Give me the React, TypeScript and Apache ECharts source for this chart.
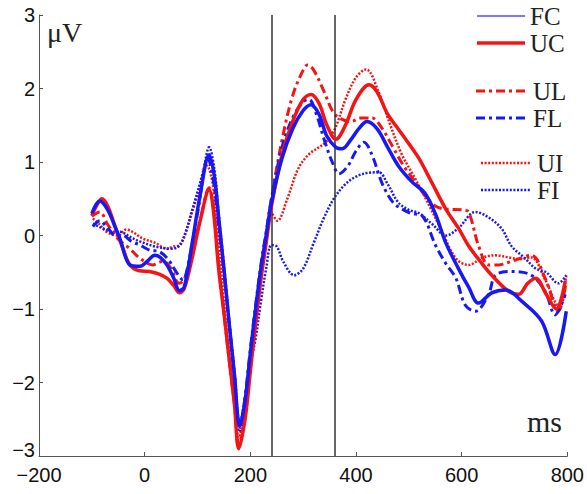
import React, { useEffect, useRef } from "react";
import * as echarts from "echarts";

// ---- data (ms, µV) ----
const ucMs = [-100,-90,-81,-70,-55,-40,-28,-10,9,25,42,55,66,75,90,105,122,130,140,150,160,170,178,190,200,210,220,230,240,260,280,300,315,330,345,362,380,400,425,440,460,480,500,520,545,570,594,613,635,657,689,708,725,740,760,779,796];
const ucUv = [0.27,0.42,0.5,0.4,0.1,-0.2,-0.4,-0.48,-0.49,-0.52,-0.58,-0.68,-0.78,-0.72,-0.3,0.2,0.62,0.35,-0.45,-1.05,-1.68,-2.3,-2.9,-2.5,-1.85,-1.2,-0.6,-0.1,0.4,1.1,1.55,1.85,1.92,1.8,1.5,1.31,1.5,1.85,2.05,1.95,1.65,1.45,1.25,1.04,0.7,0.36,0.1,-0.14,-0.35,-0.54,-0.76,-0.8,-0.65,-0.58,-0.8,-1.0,-0.62];

const fcMs = [-100,-85,-70,-55,-47,-28,-9,5,19,30,42,55,66,75,90,105,122,132,140,150,160,170,180,190,200,210,220,230,240,260,280,300,315,330,345,362,374,390,405,421,440,460,480,506,530,550,570,594,613,632,657,683,713,751,777,798];
const fcUv = [0.3,0.47,0.35,0.1,-0.04,-0.4,-0.42,-0.35,-0.27,-0.3,-0.4,-0.58,-0.75,-0.7,-0.1,0.55,1.1,0.8,0.25,-0.45,-1.2,-1.9,-2.6,-2.25,-1.6,-1.0,-0.45,0.0,0.45,1.05,1.45,1.7,1.78,1.65,1.35,1.2,1.18,1.3,1.45,1.55,1.45,1.2,0.95,0.73,0.58,0.3,-0.1,-0.45,-0.7,-0.92,-0.78,-0.74,-0.89,-1.16,-1.62,-1.03];

const ulMs = [-100,-85,-70,-50,-28,-9,15,35,50,65,75,90,105,122,130,140,150,160,170,178,190,200,210,220,230,240,260,280,300,308,320,340,355,368,390,410,430,450,470,490,510,530,550,570,600,613,632,651,670,695,732,758,783,798];
const ulUv = [0.26,0.32,0.15,-0.05,-0.18,-0.31,-0.4,-0.35,-0.45,-0.65,-0.6,-0.2,0.2,0.65,0.4,-0.4,-1.05,-1.7,-2.3,-2.85,-2.45,-1.8,-1.1,-0.5,0.0,0.5,1.3,1.9,2.25,2.32,2.25,1.95,1.7,1.6,1.55,1.6,1.6,1.45,1.2,0.95,0.75,0.55,0.4,0.36,0.35,0.32,-0.14,-0.4,-0.4,-0.35,-0.27,-0.58,-1.03,-0.62];

const flMs = [-98,-85,-70,-55,-42,-25,-9,10,28,45,60,72,85,100,120,130,140,150,160,170,180,190,200,210,220,230,240,260,280,300,311,325,340,355,368,385,400,415,430,450,470,487,505,525,551,570,589,607,626,651,664,695,732,758,777,796];
const flUv = [0.12,0.2,0.1,0.0,0.0,-0.08,-0.13,-0.2,-0.22,-0.33,-0.5,-0.6,-0.3,0.3,1.05,0.75,0.15,-0.5,-1.2,-1.9,-2.65,-2.2,-1.55,-0.95,-0.4,0.05,0.5,1.2,1.6,1.82,1.85,1.65,1.3,1.0,0.84,0.95,1.15,1.27,1.1,0.7,0.45,0.36,0.3,0.27,-0.14,-0.38,-0.58,-0.95,-1.03,-0.8,-0.54,-0.49,-0.54,-0.76,-1.08,-0.8];

const uiMs = [-98,-85,-72,-50,-35,-23,-4,20,42,55,66,80,100,118,130,140,150,160,170,178,190,200,210,220,230,240,251,270,290,310,330,343,360,380,400,419,443,465,487,510,532,560,589,613,640,664,690,710,732,758,783,798];
const uiUv = [0.23,0.15,0.05,0.0,0.08,0.05,-0.04,-0.1,-0.18,-0.15,-0.13,0.1,0.55,0.95,0.65,-0.1,-0.9,-1.6,-2.2,-2.75,-2.35,-1.7,-1.05,-0.45,0.0,0.3,0.2,0.5,0.9,1.1,1.2,1.27,1.45,1.85,2.15,2.26,1.95,1.5,1.1,0.8,0.5,0.1,-0.31,-0.4,-0.3,-0.27,-0.3,-0.32,-0.3,-0.6,-0.95,-0.55];

const fiMs = [-98,-80,-60,-47,-25,-9,20,53,70,90,110,122,132,140,150,160,170,180,190,200,210,220,230,240,250,262,283,300,320,340,358,380,400,420,443,460,480,500,520,545,570,594,626,650,675,695,720,740,760,783,798];
const fiUv = [0.16,0.1,0.05,0.05,-0.03,-0.08,-0.15,-0.18,-0.1,0.35,0.85,1.2,0.9,0.3,-0.4,-1.15,-1.85,-2.55,-2.2,-1.75,-1.4,-0.9,-0.45,-0.13,-0.15,-0.35,-0.54,-0.45,-0.1,0.25,0.5,0.7,0.8,0.85,0.86,0.7,0.45,0.35,0.3,0.15,0.0,0.1,0.32,0.25,0.1,-0.15,-0.31,-0.45,-0.5,-0.65,-0.54];

const markerMs = [240, 360];
const xTicks = { min: -200, max: 800, interval: 200 };
const yTicks = { min: -3, max: 3, interval: 1 };
const legendNames = ["FC", "UC", "UL", "FL", "UI", "FI"];

const RED = "#f41414";
const BLUE = "#1818f4";
const SERIF = "'Liberation Serif', 'Times New Roman', serif";
const SANS = "'Liberation Sans', Arial, sans-serif";
const DASH_DOT = [9, 4, 3, 4];
const DOTTED = [2, 1.6];

const zip = (xs: number[], ys: number[]) => xs.map((x, i) => [x, ys[i]]);
const minus = (v: number) => String(v).replace("-", "\u2212");

// legend sample styles (layout only)
const legendStyle: Record<string, { x1: number; x2: number; tx: number; y: number; color: string; w: number; dash: any }> = {
  FC: { x1: 477, x2: 525, tx: 530, y: 16, color: "#4a4aff", w: 1.5, dash: null },
  UC: { x1: 477, x2: 525, tx: 530, y: 43, color: RED, w: 3.5, dash: null },
  UL: { x1: 476, x2: 527, tx: 533, y: 91, color: RED, w: 3, dash: DASH_DOT },
  FL: { x1: 476, x2: 527, tx: 533, y: 118, color: BLUE, w: 3, dash: DASH_DOT },
  UI: { x1: 481, x2: 531, tx: 537, y: 163, color: RED, w: 2.5, dash: DOTTED },
  FI: { x1: 481, x2: 531, tx: 537, y: 190, color: BLUE, w: 2.5, dash: DOTTED },
};

export default function App() {
  const ref = useRef<HTMLDivElement>(null);
  useEffect(() => {
    if (!ref.current) return;
    const chart = echarts.init(ref.current, null, { renderer: "svg" });
    const line = (name: string, xs: number[], ys: number[], color: string, type: any, width: number, z: number, extra: any = {}) => ({
      name,
      type: "line",
      data: zip(xs, ys),
      smooth: 0.35,
      symbol: "none",
      showSymbol: false,
      z,
      lineStyle: { color, type, width },
      itemStyle: { color },
      ...extra,
    });
    const legendGraphics: any[] = [];
    legendNames.forEach((n) => {
      const s = legendStyle[n];
      legendGraphics.push({
        type: "line",
        shape: { x1: s.x1, y1: s.y, x2: s.x2, y2: s.y },
        style: { stroke: s.color, lineWidth: s.w, lineDash: s.dash || undefined },
      });
      legendGraphics.push({
        type: "text",
        x: s.tx,
        y: s.y,
        style: { text: n, font: `25px ${SERIF}`, lineHeight: 22, fill: "#222", verticalAlign: "middle", align: "left" },
      });
    });
    chart.setOption({
      animation: false,
      backgroundColor: "#fff",
      grid: { left: 39, right: 18, top: 15, bottom: 38, containLabel: false },
      xAxis: {
        type: "value",
        ...xTicks,
        axisLine: { show: true, onZero: false, lineStyle: { color: "#555", width: 1 } },
        axisTick: { show: true, inside: true, length: 4, lineStyle: { color: "#555" } },
        splitLine: { show: false },
        axisLabel: { fontFamily: SANS, fontSize: 20, color: "#111", margin: 9, formatter: minus },
      },
      yAxis: {
        type: "value",
        ...yTicks,
        axisLine: { show: true, onZero: false, lineStyle: { color: "#555", width: 1 } },
        axisTick: { show: true, inside: true, length: 4, lineStyle: { color: "#555" } },
        splitLine: { show: false },
        axisLabel: {
          fontFamily: SANS,
          fontSize: 20,
          color: "#111",
          margin: 4,
          formatter: (v: number) => (v === yTicks.min ? `{low|${minus(v)}}` : minus(v)),
          rich: { low: { fontFamily: SANS, fontSize: 20, color: "#111", padding: [0, 0, 12, 0] } },
        },
      },
      graphic: [
        { type: "text", left: 47, top: 18, style: { text: "\u03bcV", font: `28px ${SERIF}`, fill: "#222" } },
        { type: "text", left: 527, top: 406, style: { text: "ms", font: `30px ${SERIF}`, fill: "#222" } },
        ...legendGraphics,
      ],
      series: [
        line("FC", fcMs, fcUv, BLUE, "solid", 3.5, 6, {
          markLine: {
            silent: true,
            symbol: ["none", "none"],
            label: { show: false },
            lineStyle: { color: "#333", width: 1.5, type: "solid" },
            data: markerMs.map((v) => ({ xAxis: v })),
          },
        }),
        line("UC", ucMs, ucUv, RED, "solid", 3.5, 5),
        line("UL", ulMs, ulUv, RED, DASH_DOT, 3, 4),
        line("FL", flMs, flUv, BLUE, DASH_DOT, 3, 4),
        line("UI", uiMs, uiUv, RED, DOTTED, 2.5, 3),
        line("FI", fiMs, fiUv, BLUE, DOTTED, 2.5, 3),
      ],
    });
    return () => chart.dispose();
  }, []);
  return <div ref={ref} style={{ position: "fixed", left: 0, top: 0, width: 587, height: 494 }} />;
}
